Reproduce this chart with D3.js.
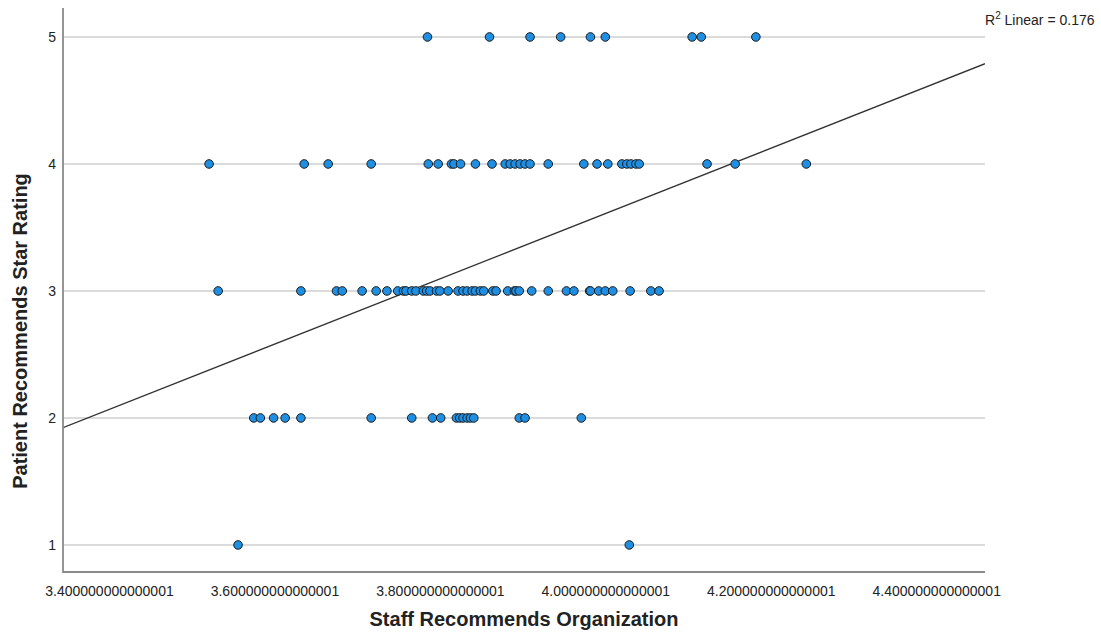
<!DOCTYPE html>
<html>
<head>
<meta charset="utf-8">
<script src="https://cdn.jsdelivr.net/npm/d3@7"></script>
<style>
  html, body { margin: 0; padding: 0; background: #fff; }
  svg { display: block; }
  text { font-family: "Liberation Sans", Arial, sans-serif; fill: #222; }
</style>
</head>
<body>
<svg id="chart" width="1101" height="641"></svg>
<script>
// Staff recommendation score (x) for each organisation, grouped by its patient star rating
const rating5 = [3.785, 3.860, 3.909, 3.946, 3.982, 4.000, 4.105, 4.116, 4.182];
const rating4 = [3.521, 3.636, 3.665, 3.717, 3.786, 3.798, 3.814, 3.817, 3.825, 3.843,
                 3.863, 3.879, 3.885, 3.891, 3.897, 3.903, 3.909, 3.931, 3.974, 3.990,
                 4.003, 4.020, 4.026, 4.031, 4.037, 4.041, 4.123, 4.157, 4.243];
const rating3 = [3.532, 3.632, 3.675, 3.682, 3.706, 3.723, 3.736, 3.749, 3.756, 3.759,
                 3.766, 3.771, 3.780, 3.784, 3.788, 3.796, 3.800, 3.810, 3.822, 3.828,
                 3.833, 3.839, 3.843, 3.849, 3.853, 3.864, 3.868, 3.882, 3.890, 3.892,
                 3.896, 3.911, 3.931, 3.953, 3.962, 3.981, 3.982, 3.992, 4.000, 4.009,
                 4.030, 4.055, 4.065];
const rating2 = [3.575, 3.583, 3.599, 3.613, 3.632, 3.717, 3.766, 3.791, 3.801, 3.820,
                 3.824, 3.828, 3.833, 3.837, 3.841, 3.896, 3.903, 3.971];
const rating1 = [3.556, 4.029];

const xTickValues = [3.4, 3.6, 3.8, 4.0, 4.2, 4.4];
const xTickLabels = ["3.400000000000001", "3.600000000000001", "3.800000000000001",
                     "4.000000000000001", "4.200000000000001", "4.400000000000001"];
const yTickValues = [1, 2, 3, 4, 5];
const xTitle = "Staff Recommends Organization";
const yTitle = "Patient Recommends Star Rating";
const r2Text = "0.176";

const points = [
  ...rating5.map(x => ({x, y: 5})),
  ...rating4.map(x => ({x, y: 4})),
  ...rating3.map(x => ({x, y: 3})),
  ...rating2.map(x => ({x, y: 2})),
  ...rating1.map(x => ({x, y: 1}))
];

const svg = d3.select("#chart");
const plot = {left: 63, right: 985, top: 8, bottom: 572};

const x = d3.scaleLinear().domain([3.3444, 4.459]).range([plot.left, plot.right]);
const y = d3.scaleLinear().domain([0.787, 5.228]).range([plot.bottom, plot.top]);

// Horizontal gridlines at each rating level
svg.append("g")
  .selectAll("line")
  .data(yTickValues)
  .join("line")
  .attr("x1", plot.left).attr("x2", plot.right)
  .attr("y1", d => y(d)).attr("y2", d => y(d))
  .attr("stroke", "#cfcfcf")
  .attr("stroke-width", 1.5);

// Least-squares fit line
const mx = d3.mean(points, d => d.x), my = d3.mean(points, d => d.y);
const sxy = d3.sum(points, d => (d.x - mx) * (d.y - my));
const sxx = d3.sum(points, d => (d.x - mx) ** 2);
const slope = sxy / sxx, intercept = my - slope * mx;
const [x0, x1] = x.domain();

svg.append("defs").append("clipPath").attr("id", "plotClip")
  .append("rect")
  .attr("x", plot.left).attr("y", plot.top)
  .attr("width", plot.right - plot.left).attr("height", plot.bottom - plot.top);

svg.append("line")
  .attr("clip-path", "url(#plotClip)")
  .attr("x1", x(x0)).attr("y1", y(intercept + slope * x0))
  .attr("x2", x(x1)).attr("y2", y(intercept + slope * x1))
  .attr("stroke", "#333")
  .attr("stroke-width", 1.3);

// Scatter points
svg.append("g")
  .selectAll("circle")
  .data(points)
  .join("circle")
  .attr("cx", d => x(d.x))
  .attr("cy", d => y(d.y))
  .attr("r", 4.3)
  .attr("fill", "#1e8fe3")
  .attr("stroke", "#1a1a1a")
  .attr("stroke-width", 1);

// Axes
const xAxis = d3.axisBottom(x)
  .tickValues(xTickValues)
  .tickFormat((d, i) => xTickLabels[i])
  .tickSize(0).tickPadding(14);
const gx = svg.append("g").attr("transform", `translate(0,${plot.bottom})`).call(xAxis);
gx.select(".domain").remove();
gx.selectAll("text").style("font-size", "14px").attr("fill", "#222");

const yAxis = d3.axisLeft(y)
  .tickValues(yTickValues)
  .tickFormat(d3.format("d"))
  .tickSize(0).tickPadding(7);
const gy = svg.append("g").attr("transform", `translate(${plot.left},0)`).call(yAxis);
gy.select(".domain").remove();
gy.selectAll("text").style("font-size", "14px").attr("fill", "#222");

// Axis lines
svg.append("path")
  .attr("d", `M${plot.left},${plot.top}V${plot.bottom}H${plot.right}`)
  .attr("fill", "none")
  .attr("stroke", "#8a8a8a")
  .attr("stroke-width", 1.8);

// Axis titles
svg.append("text")
  .attr("x", (plot.left + plot.right) / 2)
  .attr("y", 626)
  .attr("text-anchor", "middle")
  .style("font-size", "20px")
  .style("font-weight", "bold")
  .text(xTitle);

svg.append("text")
  .attr("transform", "translate(27,331) rotate(-90)")
  .attr("text-anchor", "middle")
  .style("font-size", "20px")
  .style("font-weight", "bold")
  .text(yTitle);

// Fit statistic label
const r2 = svg.append("text")
  .attr("x", 985).attr("y", 25)
  .style("font-size", "14px");
r2.append("tspan").text("R");
r2.append("tspan").attr("dy", -6).style("font-size", "10px").text("2");
r2.append("tspan").attr("dy", 6).text(" Linear = " + r2Text);
</script>
</body>
</html>
